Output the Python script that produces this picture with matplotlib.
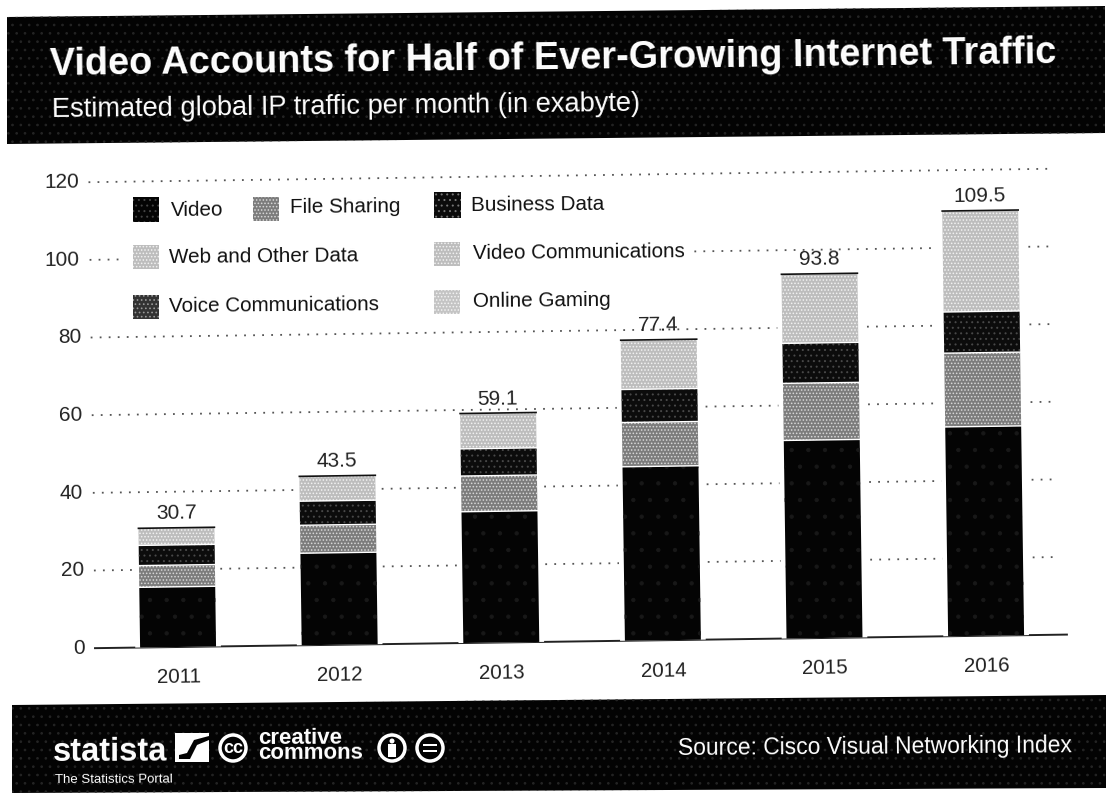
import matplotlib
matplotlib.use('Agg')
import matplotlib.pyplot as plt
from matplotlib.patches import Polygon, Rectangle, Circle
from matplotlib.transforms import Affine2D, IdentityTransform

plt.rcParams['font.family'] = ['Liberation Sans', 'DejaVu Sans']
plt.rcParams['hatch.linewidth'] = 0.7

years = ['2011', '2012', '2013', '2014', '2015', '2016']
video = [15.5, 23.7, 33.8, 44.8, 51.0, 53.9]
file_sharing = [5.6, 7.2, 9.2, 11.4, 14.7, 19.0]
business = [5.2, 6.2, 7.0, 8.5, 10.3, 10.6]
web_other = [4.4, 6.4, 9.1, 12.7, 17.8, 26.0]
totals = [30.7, 43.5, 59.1, 77.4, 93.8, 109.5]
y_ticks = [0, 20, 40, 60, 80, 100, 120]

W, H = 1106, 793
TILT = 0.8

fig = plt.figure(figsize=(W / 100, H / 100), dpi=100, facecolor='white')
pix = IdentityTransform()


def py(y):
	# page coordinates run downwards, display ones upwards
	return H - y


def banner(x0, x1, top0, top1, bot0, bot1):
	pts = [(x0, py(top0)), (x1, py(top1)), (x1, py(bot1)), (x0, py(bot0))]
	fig.add_artist(Polygon(pts, closed=True, transform=pix, facecolor='#030303', edgecolor='#242424', hatch='..', lw=0))


def swatch(x, y, w, h, face, edge, hatch):
	fig.add_artist(Rectangle((x, py(y + h)), w, h, transform=pix, facecolor=face, edgecolor=edge, hatch=hatch, lw=0, zorder=3))


def page_text(x, y, s, size, color='#111111', weight='normal', rot=0.5, ha='left'):
	fig.text(x, py(y), s, transform=pix, fontsize=size, color=color, fontweight=weight, rotation=rot,
		rotation_mode='anchor', ha=ha, va='baseline', zorder=4)


# header and footer bands
banner(7, 1105, 17, 6, 144, 133)
banner(12, 1106, 705, 695, 793, 788)

page_text(50, 75, 'Video Accounts for Half of Ever-Growing Internet Traffic', 27.3, 'white', 'bold', 0.68)
page_text(52, 117, 'Estimated global IP traffic per month (in exabyte)', 19.6, 'white', 'normal', 0.6)

# chart axes, the whole plot leans slightly
ax = fig.add_axes([95 / W, (H - 647) / H, (1067 - 95) / W, 466 / H])
ax.set_zorder(2)
ax.patch.set_alpha(0)
ax.set_xlim(-0.514, 5.5)
ax.set_ylim(0, 120)
ax.axis('off')
tilt = Affine2D().rotate_deg_around(178, H - 647, TILT)
data_tr = ax.transData + tilt

for t in y_ticks:
	if t == 0:
		ax.plot([-0.514, 5.5], [0, 0], color='#222222', lw=1.4, transform=data_tr, clip_on=False, zorder=1)
	else:
		ax.plot([-0.514, 5.45], [t, t], color='#555555', lw=1.3, ls=(0, (1, 4)), transform=data_tr, clip_on=False, zorder=1)
	ax.text(-0.01, t, str(t), transform=ax.get_yaxis_transform() + tilt, fontsize=15, color='#222222', ha='right',
		va='center', rotation=TILT, rotation_mode='anchor', clip_on=False)

# legend sits on a white block that hides the gridlines
ax.add_artist(Rectangle((122, py(318)), 570, 128, transform=pix, facecolor='white', lw=0, zorder=1.5))

xs = list(range(len(years)))
bottom = [0] * len(years)
series = [
	(video, '#040404', '#181818', '.'),
	(file_sharing, '#7c7c7c', '#d8d8d8', '.....'),
	(business, '#0c0c0c', '#484848', '...'),
	(web_other, '#bdbdbd', '#f2f2f2', '.....'),
]

# white backing keeps the dotted lines off the bar sides
ax.bar(xs, totals, 0.53, color='white', transform=data_tr, clip_on=False, zorder=2)
for vals, face, edge, hatch in series:
	ax.bar(xs, vals, 0.47, bottom=bottom, facecolor=face, edgecolor=edge, hatch=hatch, lw=0, transform=data_tr, clip_on=False, zorder=3)
	# thin white gap between the stacked parts
	tops = [b + v for b, v in zip(bottom, vals)]
	for x, top in zip(xs, tops):
		ax.plot([x - 0.235, x + 0.235], [top, top], color='white', lw=1.0, transform=data_tr, clip_on=False, zorder=4)
	bottom = tops

for x, total in zip(xs, totals):
	ax.plot([x - 0.235, x + 0.235], [total, total], color='#111111', lw=1.2, transform=data_tr, clip_on=False, zorder=5)
	ax.text(x, total + 1.2, '%.1f' % total, transform=data_tr, fontsize=15, color='#222222', ha='center', va='bottom',
		rotation=TILT, rotation_mode='anchor', zorder=6)
	ax.text(x, -0.045, years[x], transform=ax.get_xaxis_transform() + tilt, fontsize=14.8, color='#222222', ha='center',
		va='top', rotation=TILT, rotation_mode='anchor')

ax.set_xlim(-0.514, 5.5)
ax.set_ylim(0, 120)

# legend
swatch(133, 197, 26, 25, '#040404', '#444444', '...')
page_text(171, 216, 'Video', 14.9)
swatch(253, 197, 26, 24, '#7c7c7c', '#d8d8d8', '.....')
page_text(290, 213, 'File Sharing', 14.9)
swatch(434, 192, 27, 26, '#0c0c0c', '#777777', '...')
page_text(471, 211, 'Business Data', 14.9)
swatch(133, 245, 26, 24, '#bdbdbd', '#f2f2f2', '.....')
page_text(169, 263, 'Web and Other Data', 14.9)
swatch(434, 242, 26, 24, '#bdbdbd', '#f2f2f2', '.....')
page_text(473, 259, 'Video Communications', 14.9)
swatch(133, 295, 26, 24, '#333333', '#999999', '....')
page_text(169, 312, 'Voice Communications', 14.9)
swatch(434, 290, 26, 24, '#c4c4c4', '#f2f2f2', '.....')
page_text(473, 307, 'Online Gaming', 14.9)

# footer marks
page_text(53, 761, 'statista', 23.5, 'white', 'bold', 0.2)
page_text(55, 783, 'The Statistics Portal', 9.5, 'white', 'normal', 0.2)
fig.add_artist(Polygon([(175, py(762)), (209, py(762)), (209, py(733)), (175, py(733))], closed=True, transform=pix, facecolor='white', lw=0))
fig.add_artist(Polygon([(179, py(759)), (190, py(759)), (197, py(745)), (209, py(740)), (209, py(736)), (194, py(740)), (187, py(753)), (179, py(755))],
	closed=True, transform=pix, facecolor='#030303', lw=0))

for cx in [233, 392, 430]:
	fig.add_artist(Circle((cx, py(748)), 13, transform=pix, facecolor='#030303', edgecolor='white', lw=2.5))
page_text(233, 753, 'cc', 13, 'white', 'bold', 0, 'center')
page_text(258, 744, 'creative', 16, 'white', 'bold', 0.2)
page_text(258, 759, 'commons', 16, 'white', 'bold', 0.2)
# attribution figure
fig.add_artist(Circle((392, py(741)), 2.5, transform=pix, facecolor='white', lw=0))
fig.add_artist(Rectangle((388, py(757)), 8, 13, transform=pix, facecolor='white', lw=0))
# no derivatives sign
fig.add_artist(Rectangle((423, py(746)), 14, 2.5, transform=pix, facecolor='white', lw=0))
fig.add_artist(Rectangle((423, py(752)), 14, 2.5, transform=pix, facecolor='white', lw=0))

page_text(678, 755, 'Source: Cisco Visual Networking Index', 16.5, 'white', 'normal', 0.4)

fig.savefig('out.png', dpi=100)
